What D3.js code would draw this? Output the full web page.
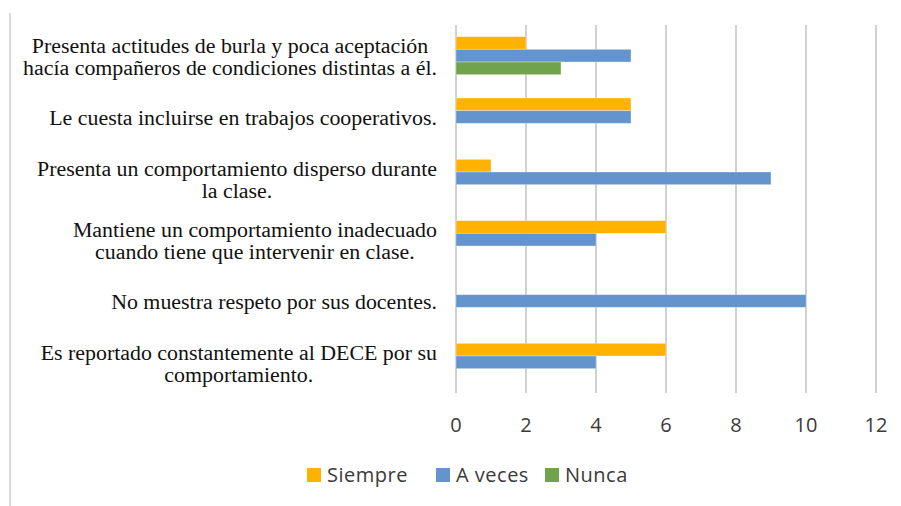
<!DOCTYPE html>
<html>
<head>
<meta charset="utf-8">
<script src="https://cdn.jsdelivr.net/npm/d3@7"></script>
<style>
  body { margin: 0; background: #fff; }
  svg { display: block; }
</style>
</head>
<body>
<div id="chart"></div>
<script>
  const width = 901,
      height = 506;

  // categories, top to bottom, each label split into its lines
  const categories = [
    ["Presenta actitudes de burla y poca aceptación", "hacía compañeros de condiciones distintas a él."],
    ["Le cuesta incluirse en trabajos cooperativos."],
    ["Presenta un comportamiento disperso durante", "la clase."],
    ["Mantiene un comportamiento inadecuado", "cuando tiene que intervenir en clase."],
    ["No muestra respeto por sus docentes."],
    ["Es reportado constantemente al DECE por su", "comportamiento."]
  ];

  const seriesNames = ["Siempre", "A veces", "Nunca"];
  const siempre = [2, 5, 1, 6, 0, 6];
  const aVeces = [5, 5, 9, 4, 10, 4];
  const nunca = [3, 0, 0, 0, 0, 0];
  const xTicks = [0, 2, 4, 6, 8, 10, 12];
  const colors = ["#FFB300", "#6394CD", "#71A24E"];

  const seriesValues = [siempre, aVeces, nunca];
  const catKeys = categories.map(c => c.join(" "));

  const svg = d3.select("#chart").append("svg")
      .attr("width", width)
      .attr("height", height);

  // chart frame (only its left side shows in the picture)
  svg.append("line")
      .attr("x1", 10).attr("x2", 10)
      .attr("y1", 13).attr("y2", height)
      .attr("stroke", "#d9d9d9")
      .attr("stroke-width", 2);

  const x = d3.scaleLinear()
      .domain([0, 12])
      .range([456, 876]);

  const y = d3.scaleBand()
      .domain(catKeys)
      .range([25, 393])
      .padding(0);

  const ySub = d3.scaleBand()
      .domain(seriesNames)
      .range([0, y.bandwidth()])
      .paddingInner(0)
      .paddingOuter(0.92);

  // vertical gridlines
  svg.selectAll(".grid")
    .data(xTicks)
    .enter().append("line")
      .attr("class", "grid")
      .attr("x1", d => x(d)).attr("x2", d => x(d))
      .attr("y1", 25).attr("y2", 393)
      .attr("stroke", "#d0d0d0")
      .attr("stroke-width", 2);

  // bars
  const groups = svg.selectAll(".group")
    .data(catKeys)
    .enter().append("g")
      .attr("class", "group")
      .attr("transform", d => `translate(0,${y(d)})`);

  groups.selectAll("rect")
    .data((d, i) => seriesNames.map((s, j) => ({ series: s, value: seriesValues[j][i], color: colors[j] })))
    .enter().append("rect")
      .filter(d => d.value > 0)
      .attr("x", x(0))
      .attr("y", d => ySub(d.series))
      .attr("width", d => x(d.value) - x(0))
      .attr("height", ySub.bandwidth())
      .attr("fill", d => d.color)
      .attr("stroke", "#ffffff")
      .attr("stroke-opacity", 0.4)
      .attr("stroke-width", 0.8);

  // category labels: block right aligned, lines centered within block
  const labelRight = 437,
      lineH = 22;
  const labels = svg.selectAll(".cat-label")
    .data(categories)
    .enter().append("text")
      .attr("class", "cat-label")
      .attr("font-family", "'Liberation Serif', 'Times New Roman', serif")
      .attr("font-size", 21.9)
      .attr("fill", "#111")
      .attr("text-anchor", "middle");

  labels.each(function (lines, i) {
    const t = d3.select(this);
    const cy = y(catKeys[i]) + y.bandwidth() / 2;
    const spans = t.selectAll("tspan")
      .data(lines)
      .enter().append("tspan")
        .text(d => d);
    let maxW = 0;
    spans.each(function () { maxW = Math.max(maxW, this.getComputedTextLength()); });
    const cx = labelRight - maxW / 2;
    spans
      .attr("x", cx)
      .attr("y", (d, k) => cy + (k - (lines.length - 1) / 2) * lineH)
      .attr("dy", "0.38em");
  });

  // x axis tick labels
  svg.selectAll(".tick-label")
    .data(xTicks)
    .enter().append("text")
      .attr("class", "tick-label")
      .attr("x", d => x(d))
      .attr("y", 425)
      .attr("dy", "0.35em")
      .attr("text-anchor", "middle")
      .attr("font-family", "'Open Sans', sans-serif")
      .attr("font-size", 20)
      .attr("fill", "#3a3a3a")
      .text(d => d);

  // legend
  const legendX = [307, 436, 545];
  const legend = svg.selectAll(".legend")
    .data(seriesNames)
    .enter().append("g")
      .attr("class", "legend")
      .attr("transform", (d, i) => `translate(${legendX[i]},475)`);

  legend.append("rect")
      .attr("x", 0).attr("y", -7)
      .attr("width", 14).attr("height", 14)
      .attr("fill", (d, i) => colors[i]);

  legend.append("text")
      .attr("x", 20)
      .attr("dy", "0.35em")
      .attr("font-family", "'Open Sans', sans-serif")
      .attr("font-size", 20)
      .attr("letter-spacing", 0.5)
      .attr("fill", "#3a3a3a")
      .text(d => d);
</script>
</body>
</html>
